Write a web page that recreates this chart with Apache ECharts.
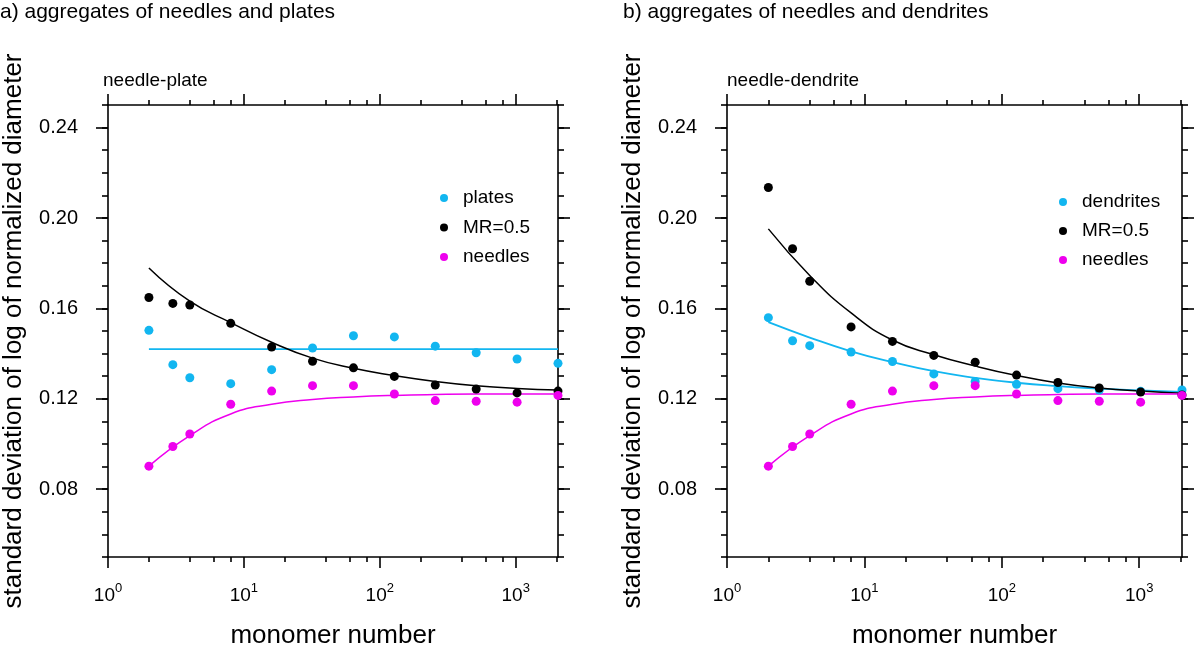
<!DOCTYPE html>
<html><head><meta charset="utf-8">
<script src="https://cdn.jsdelivr.net/npm/echarts@6/dist/echarts.min.js"></script>
<style>html,body{margin:0;padding:0;background:#fff}#c{width:1200px;height:654px}</style>
</head><body><div id="c"></div>
<script>
// ---- data ----
const monomers = [2, 3, 4, 8, 16, 32, 64, 128, 256, 512, 1024, 2048];
// panel a: needles and plates
const platesA = [0.1503, 0.1351, 0.1293, 0.1267, 0.1329, 0.1425, 0.1479, 0.1474, 0.1433, 0.1404, 0.1376, 0.1357];
const mrA = [0.1648, 0.1622, 0.1615, 0.1534, 0.1429, 0.1366, 0.1337, 0.1299, 0.1261, 0.1243, 0.1226, 0.1234];
const needlesPts = [0.0902, 0.0989, 0.1044, 0.1176, 0.1234, 0.1258, 0.1258, 0.1221, 0.1192, 0.1189, 0.1185, 0.1215];
// fitted curves, read at doubling monomer numbers
const fitX = [2, 4, 8, 16, 32, 64, 128, 256, 512, 1024, 2048];
const platesFitX = [2, 2048];
const platesFitA = [0.1420, 0.1420];
const mrFitA = [0.1779, 0.1632, 0.1537, 0.1450, 0.1380, 0.1335, 0.1303, 0.1277, 0.1258, 0.1246, 0.1239];
const needlesFit = [0.0902, 0.1037, 0.1133, 0.1176, 0.1197, 0.1208, 0.1215, 0.1219, 0.1221, 0.1221, 0.1221];
// panel b: needles and dendrites
const dendritesB = [0.1559, 0.1457, 0.1435, 0.1407, 0.1365, 0.1310, 0.1277, 0.1264, 0.1245, 0.1239, 0.1233, 0.1239];
const mrB = [0.2135, 0.1864, 0.1720, 0.1518, 0.1454, 0.1392, 0.1362, 0.1305, 0.1272, 0.1248, 0.1230, 0.1217];
const dendritesFitB = [0.1539, 0.1471, 0.1410, 0.1362, 0.1322, 0.1293, 0.1271, 0.1256, 0.1245, 0.1237, 0.1231];
const mrFitB = [0.1952, 0.1746, 0.1580, 0.1460, 0.1395, 0.1345, 0.1303, 0.1270, 0.1248, 0.1234, 0.1225];
// ticks
const xMajorTicks = [1, 10, 100, 1000];
const xMinorTicks = [2, 4, 6, 8, 20, 40, 60, 80, 200, 400, 600, 800, 2000];
const yMajorTicks = [0.08, 0.12, 0.16, 0.20, 0.24];
const yMinorTicks = [0.05, 0.06, 0.07, 0.08, 0.09, 0.10, 0.11, 0.12, 0.13, 0.14, 0.15, 0.16, 0.17, 0.18, 0.19, 0.20, 0.21, 0.22, 0.23, 0.24, 0.25];
const yName = 'standard deviation of log of normalized diameter';
const xName = 'monomer number';

// ---- styling ----
const FONT = 'Liberation Sans, Arial, sans-serif';
const CYAN = '#12b6f0';
const MAGENTA = '#ee00ee';
const BLACK = '#000000';
const AX = {color: '#000', width: 1.6};

const pair = (xs, ys) => xs.map((x, i) => [x, ys[i]]);

function xAxes(g) {
  const base = {type: 'log', logBase: 10, min: 1, max: 2048, gridIndex: g,
    splitLine: {show: false}, minorTick: {show: false}, minorSplitLine: {show: false}};
  const major = (pos, withLabel) => Object.assign({}, base, {
    position: pos,
    axisLine: {show: true, onZero: false, lineStyle: AX},
    axisTick: {show: true, inside: false, length: 11, customValues: xMajorTicks, lineStyle: AX},
    axisLabel: withLabel ? {
      show: true, customValues: xMajorTicks, margin: 25,
      formatter: v => '{b|10}{s|' + Math.round(Math.log10(v)) + '}',
      rich: {
        b: {fontFamily: FONT, fontSize: 19, color: '#000', lineHeight: 28},
        s: {fontFamily: FONT, fontSize: 13, color: '#000', verticalAlign: 'top', lineHeight: 14}
      }
    } : {show: false},
    name: withLabel ? xName : '',
    nameLocation: 'middle', nameGap: 66,
    nameTextStyle: {fontFamily: FONT, fontSize: 26, color: '#000'}
  });
  const minor = pos => Object.assign({}, base, {
    position: pos,
    axisLine: {show: false, onZero: false},
    axisTick: {show: true, inside: false, length: 5, customValues: xMinorTicks, lineStyle: AX},
    axisLabel: {show: false}
  });
  return [major('bottom', true), minor('bottom'), major('top', false), minor('top')];
}

function yAxes(g) {
  const base = {type: 'value', min: 0.05, max: 0.25, gridIndex: g,
    splitLine: {show: false}, minorTick: {show: false}};
  const major = (pos, withLabel) => Object.assign({}, base, {
    position: pos,
    axisLine: {show: true, onZero: false, lineStyle: AX},
    axisTick: {show: true, inside: false, length: 12, customValues: yMajorTicks, lineStyle: AX},
    axisLabel: withLabel ? {show: true, customValues: yMajorTicks, margin: 30,
      formatter: v => v.toFixed(2),
      fontFamily: FONT, fontSize: 20, color: '#000'} : {show: false},
    name: withLabel ? yName : '',
    nameLocation: 'middle', nameGap: 81, nameRotate: 90,
    nameTextStyle: {fontFamily: FONT, fontSize: 26, color: '#000'}
  });
  const minor = pos => Object.assign({}, base, {
    position: pos,
    axisLine: {show: false, onZero: false},
    axisTick: {show: true, inside: false, length: 6, customValues: yMinorTicks, lineStyle: AX},
    axisLabel: {show: false}
  });
  return [major('left', true), minor('left'), major('right', false), minor('right')];
}

function scatter(name, g, ys, color) {
  return {type: 'scatter', name: name, xAxisIndex: g * 4, yAxisIndex: g * 4,
    data: pair(monomers, ys), symbol: 'circle', symbolSize: 9, z: 5,
    itemStyle: {color: color, opacity: 1}, emphasis: {disabled: true}};
}
function fit(name, g, xs, ys, color, w) {
  return {type: 'line', name: name, xAxisIndex: g * 4, yAxisIndex: g * 4,
    data: pair(xs, ys), showSymbol: false, symbol: 'none', smooth: 0.5, z: 3,
    lineStyle: {color: color, width: w, opacity: 1}, itemStyle: {color: color}, emphasis: {disabled: true}};
}

const chart = echarts.init(document.getElementById('c'), null, {renderer: 'canvas'});
const titleStyle = (fs) => ({fontFamily: FONT, fontSize: fs, fontWeight: 'normal', color: '#000'});
const legendText = {fontFamily: FONT, fontSize: 19, color: '#000', lineHeight: 20};
chart.setOption({
  animation: false,
  backgroundColor: '#fff',
  title: [
    {text: 'a) aggregates of needles and plates', left: 0, top: 2, padding: 0, textStyle: titleStyle(21)},
    {text: 'b) aggregates of needles and dendrites', left: 623, top: 2, padding: 0, textStyle: titleStyle(21)},
    {text: 'needle-plate', left: 103, top: 71, padding: 0, textStyle: titleStyle(19)},
    {text: 'needle-dendrite', left: 727, top: 71, padding: 0, textStyle: titleStyle(19)}
  ],
  legend: [
    {orient: 'vertical', left: 435, top: 183, itemWidth: 28, itemHeight: 8, itemGap: 9.5,
      icon: 'circle', selectedMode: false, data: ['plates', 'MR=0.5', 'needles'], textStyle: legendText},
    {orient: 'vertical', left: 1054, top: 187, itemWidth: 28, itemHeight: 8, itemGap: 9,
      icon: 'circle', selectedMode: false, data: ['dendrites', 'MR=0.5', 'needles'], textStyle: legendText}
  ],
  grid: [
    {left: 103, top: 105, width: 455, height: 455, containLabel: false},
    {left: 727, top: 105, width: 455, height: 455, containLabel: false}
  ],
  xAxis: xAxes(0).concat(xAxes(1)),
  yAxis: yAxes(0).concat(yAxes(1)),
  series: [
    fit('fit plates', 0, platesFitX, platesFitA, CYAN, 1.8),
    fit('fit MR a', 0, fitX, mrFitA, BLACK, 1.5),
    fit('fit needles a', 0, fitX, needlesFit, MAGENTA, 1.5),
    scatter('plates', 0, platesA, CYAN),
    scatter('MR=0.5', 0, mrA, BLACK),
    scatter('needles', 0, needlesPts, MAGENTA),
    fit('fit dendrites', 1, fitX, dendritesFitB, CYAN, 1.8),
    fit('fit MR b', 1, fitX, mrFitB, BLACK, 1.5),
    fit('fit needles b', 1, fitX, needlesFit, MAGENTA, 1.5),
    scatter('dendrites', 1, dendritesB, CYAN),
    scatter('MR=0.5', 1, mrB, BLACK),
    scatter('needles', 1, needlesPts, MAGENTA)
  ]
});
</script>
</body></html>
